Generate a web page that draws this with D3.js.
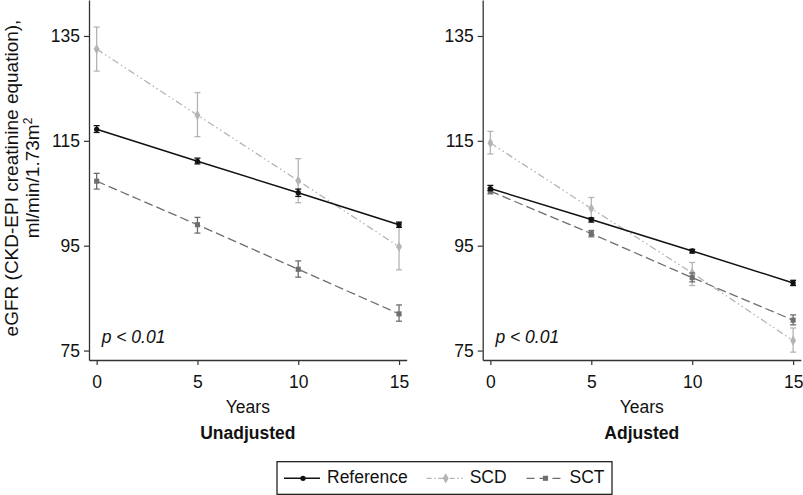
<!DOCTYPE html>
<html><head><meta charset="utf-8">
<script src="https://cdn.jsdelivr.net/npm/d3@7/dist/d3.min.js"></script>
<style>
body{margin:0;background:#fff;}
text{font-family:"Liberation Sans",Arial,Helvetica,sans-serif;}
</style></head>
<body>
<svg id="chart" width="803" height="495"></svg>
<script>
// ---- data ----
const years = [0, 5, 10, 15];
const yTicks = [75, 95, 115, 135];
const xTicks = [0, 5, 10, 15];
const seriesNames = ["Reference", "SCD", "SCT"];
const panelTitles = ["Unadjusted", "Adjusted"];

const unadjRef   = [117.2, 111.1, 105.1, 99.0];
const unadjRefLo = [116.6, 110.6, 104.4, 98.5];
const unadjRefHi = [117.9, 111.7, 105.8, 99.5];
const unadjScd   = [132.5, 119.9, 107.4, 94.8];
const unadjScdLo = [128.3, 115.8, 103.2, 90.4];
const unadjScdHi = [136.7, 124.2, 111.6, 99.3];
const unadjSct   = [107.3, 99.0, 90.5, 82.0];
const unadjSctLo = [105.8, 97.4, 89.0, 80.6];
const unadjSctHi = [108.8, 100.4, 92.1, 83.7];

const adjRef   = [105.9, 100.0, 94.0, 87.9];
const adjRefLo = [105.5, 99.5, 93.6, 87.4];
const adjRefHi = [106.5, 100.3, 94.3, 88.4];
const adjScd   = [114.6, 102.1, 89.8, 76.9];
const adjScdLo = [112.5, 99.9, 87.4, 74.7];
const adjScdHi = [116.8, 104.2, 91.8, 79.3];
const adjSct   = [105.4, 97.3, 88.9, 80.8];
const adjSctLo = [104.9, 96.7, 88.1, 79.9];
const adjSctHi = [105.9, 97.9, 89.8, 81.8];

// ---- styles ----
const styles = {
  Reference: {color: "#111", dash: null, width: 1.5, symbol: d3.symbolCircle, size: 22},
  SCD: {color: "#b4b4b4", dash: "7,3,1.5,3,1.5,3", width: 1.3, symbol: d3.symbolDiamond, size: 30},
  SCT: {color: "#6e6e6e", dash: "9,4", width: 1.3, symbol: d3.symbolSquare, size: 26}
};

const panels = [
  {title: panelTitles[0], x0: 89, x1: 406.7, series: [
    {name: "SCD", v: unadjScd, lo: unadjScdLo, hi: unadjScdHi},
    {name: "SCT", v: unadjSct, lo: unadjSctLo, hi: unadjSctHi},
    {name: "Reference", v: unadjRef, lo: unadjRefLo, hi: unadjRefHi}]},
  {title: panelTitles[1], x0: 482.7, x1: 800.8, series: [
    {name: "SCD", v: adjScd, lo: adjScdLo, hi: adjScdHi},
    {name: "SCT", v: adjSct, lo: adjSctLo, hi: adjSctHi},
    {name: "Reference", v: adjRef, lo: adjRefLo, hi: adjRefHi}]}
];

const svg = d3.select("#chart");
const yTop = 0, yBot = 360;
const y = d3.scaleLinear().domain([73.2, 141.86]).range([yBot, yTop]);
const FS = 17.5;

panels.forEach(p => {
  const x = d3.scaleLinear().domain([-0.38, 15.38]).range([p.x0, p.x1]);
  const g = svg.append("g");

  // axes
  const ya = g.append("g").attr("transform", `translate(${p.x0},0)`)
    .call(d3.axisLeft(y).tickValues(yTicks).tickSize(5).tickPadding(4).tickSizeOuter(0));
  const xa = g.append("g").attr("transform", `translate(0,${yBot})`)
    .call(d3.axisBottom(x).tickValues(xTicks).tickSize(5).tickPadding(11).tickSizeOuter(0));
  [ya, xa].forEach(a => {
    a.select(".domain").attr("stroke", "#333").attr("stroke-width", 1.3);
    a.selectAll(".tick line").attr("stroke", "#333").attr("stroke-width", 1.2);
    a.selectAll("text").attr("font-size", FS).attr("fill", "#111")
      .attr("font-family", "'Liberation Sans', Arial, sans-serif");
  });

  // series
  p.series.forEach(s => {
    const st = styles[s.name];
    const pts = years.map((yr, i) => ({yr, v: s.v[i], lo: s.lo[i], hi: s.hi[i]}));
    g.append("path").datum(pts)
      .attr("fill", "none").attr("stroke", st.color).attr("stroke-width", st.width)
      .attr("stroke-dasharray", st.dash)
      .attr("d", d3.line().x(d => x(d.yr)).y(d => y(d.v)));
    const eb = g.append("g").attr("stroke", st.color).attr("stroke-width", 1.3);
    pts.forEach(d => {
      const cx = x(d.yr);
      eb.append("line").attr("x1", cx).attr("x2", cx).attr("y1", y(d.lo)).attr("y2", y(d.hi));
      eb.append("line").attr("x1", cx - 3).attr("x2", cx + 3).attr("y1", y(d.lo)).attr("y2", y(d.lo));
      eb.append("line").attr("x1", cx - 3).attr("x2", cx + 3).attr("y1", y(d.hi)).attr("y2", y(d.hi));
    });
    g.selectAll(null).data(pts).enter().append("path")
      .attr("d", d3.symbol().type(st.symbol).size(st.size))
      .attr("transform", d => `translate(${x(d.yr)},${y(d.v)})`)
      .attr("fill", st.color);
  });

  const cx = (p.x0 + p.x1) / 2;
  g.append("text").attr("x", p.x0 + 12.7).attr("y", 342.5)
    .attr("font-size", FS).attr("font-style", "italic").attr("fill", "#111").text("p < 0.01");
  g.append("text").attr("x", cx).attr("y", 413).attr("text-anchor", "middle")
    .attr("font-size", FS).attr("fill", "#111").text("Years");
  g.append("text").attr("x", cx).attr("y", 438.5).attr("text-anchor", "middle")
    .attr("font-size", FS).attr("font-weight", "bold").attr("fill", "#111").text(p.title);
});

// y label
const yl = svg.append("text").attr("transform", "translate(0,178) rotate(-90)")
  .attr("text-anchor", "middle").attr("font-size", 19).attr("fill", "#111");
yl.append("tspan").attr("x", 0).attr("y", 18).text("eGFR (CKD-EPI creatinine equation),");
const t2 = yl.append("tspan").attr("x", 0).attr("y", 39).text("ml/min/1.73m");
t2.append("tspan").attr("dy", -7).attr("font-size", 12).text("2");

// legend
const lg = svg.append("g");
lg.append("rect").attr("x", 277).attr("y", 461.7).attr("width", 335).attr("height", 32.6)
  .attr("fill", "#fff").attr("stroke", "#111").attr("stroke-width", 1.2);
const legX = [284, 426.7, 526.5];
const legY = 478.3;
seriesNames.forEach((n, i) => {
  const st = styles[n];
  const x0 = legX[i];
  lg.append("line").attr("x1", x0).attr("x2", x0 + 36).attr("y1", legY).attr("y2", legY)
    .attr("stroke", st.color).attr("stroke-width", st.width)
    .attr("stroke-dasharray", n === "SCD" ? "5,2.5,1.5,2.5" : (n === "SCT" ? "8,5" : null));
  lg.append("path").attr("d", d3.symbol().type(st.symbol).size(st.size)())
    .attr("transform", `translate(${x0 + 19},${legY})`).attr("fill", st.color);
  lg.append("text").attr("x", x0 + 43).attr("y", 482.7).attr("font-size", FS)
    .attr("fill", "#111").text(n);
});
</script>
</body></html>
